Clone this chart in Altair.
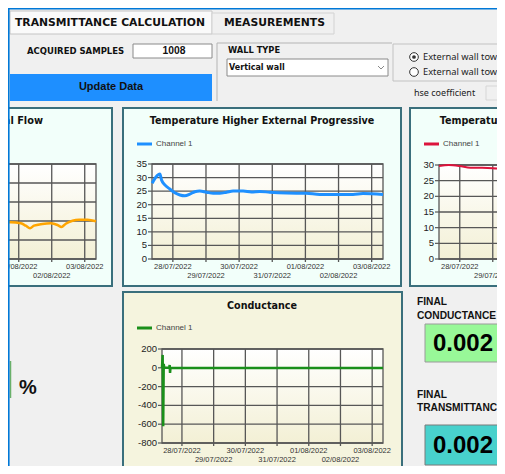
import altair as alt
import pandas as pd

OFF = 8            # page margin: chart coords = screenshot px - 8
W, H = 489, 458

# ---------------- data ----------------
BASE = pd.Timestamp("2022-07-28 00:00:00")   # series hours are counted from here
day_dates = ["2022-07-28T00:00:00", "2022-07-29T00:00:00", "2022-07-30T00:00:00",
             "2022-07-31T00:00:00", "2022-08-01T00:00:00", "2022-08-02T00:00:00",
             "2022-08-03T00:00:00"]
day_labels = ["28/07/2022", "29/07/2022", "30/07/2022", "31/07/2022",
              "01/08/2022", "02/08/2022", "03/08/2022"]
day_row = [0, 1, 0, 1, 0, 1, 0]

# Temperature Higher External Progressive (Channel 1)
ext_hours = [-15.0, -11.4, -9.4, -8.2, -5.8, -2.2, 1.4, 5.1, 8.7, 12.3, 15.9, 19.5, 24.4,
             29.2, 34.0, 38.9, 43.6, 50.9, 56.9, 62.9, 70.2, 82.3, 96.7, 106.4, 120.8,
             130.5, 137.7, 152.2]
ext_vals = [27.9, 30.7, 31.3, 29.1, 27.3, 25.8, 24.4, 23.6, 23.3, 23.9, 24.8, 25.05, 24.6,
            24.2, 24.2, 24.6, 25.05, 25.05, 24.7, 24.9, 24.6, 24.3, 24.2, 23.8, 23.8,
            23.8, 24.1, 23.8]

# Temperature (right panel, Channel 1)
int_hours = [-15.1, -8.0, -0.2, 7.8, 16.2, 24.2, 32.0, 50.0, 80.0, 110.0, 152.2]
int_vals = [29.7, 30.0, 29.7, 29.1, 29.1, 29.0, 28.7, 28.5, 28.3, 28.2, 28.0]

# Thermal flow (left panel, Channel 1)
flow_hours = [-15.1, 20.0, 50.0, 75.0, 90.2, 97.5, 101.1, 104.2, 107.1, 113.2, 119.3,
              124.2, 127.1, 130.2, 135.1, 139.9, 146.0, 152.2]
flow_vals = [9.0, 9.5, 9.8, 9.6, 9.66, 9.39, 8.76, 8.08, 8.76, 9.21, 9.39, 8.95, 8.42,
             9.29, 10.08, 10.34, 10.34, 9.92]

# Conductance (Channel 1)
cond_hours = [-15.1, -14.6, -14.2, -13.8, -13.4, -9.6, -9.3, -9.0, -8.7, 0.0, 30.0,
              60.0, 90.0, 120.0, 152.2]
cond_vals = [0, 137, -621, 40, 0, 0, 30, -55, 0, -3, -2, -2, -3, -2, -2]

ext_ticks = [0, 5, 10, 15, 20, 25, 30, 35]
int_ticks = [0, 5, 10, 15, 20, 25, 30]
flow_ticks = [0, 5, 10, 15, 20, 25]
cond_ticks = [-800, -600, -400, -200, 0, 200]

acquired_samples = "1008"
final_conductance = "0.002"
final_transmittance = "0.002"

# ---------------- style ----------------
BG = "#F0F0F0"
PANEL_BG = "#F2FFFA"
COND_BG = "#F5F4DE"
PANEL_STROKE = "#3A6F7C"
GRID = "#575757"
TXT = "#222222"
AXF = "Liberation Sans"
UIF = "DejaVu Sans"
NOTO = "Noto Sans"
PLOT_GRAD = {"gradient": "linear", "x1": 0, "y1": 0, "x2": 0, "y2": 1,
             "stops": [{"offset": 0, "color": "#FFFFFF"}, {"offset": 1, "color": "#F3F0D5"}]}

T0 = alt.DateTime(year=2022, month=7, date=27, hours=8, minutes=54)
T1 = alt.DateTime(year=2022, month=8, date=3, hours=8, minutes=12)

ONE = pd.DataFrame({"k": [0]})


def px(v):
    return v - OFF


def rect(x1, y1, x2, y2, fill, stroke="transparent", sw=1):
    return alt.Chart(ONE).mark_rect(fill=fill, stroke=stroke, strokeWidth=sw, clip=True).encode(
        x=alt.value(px(x1)), x2=alt.value(px(x2)), y=alt.value(px(y1)), y2=alt.value(px(y2)))


def seg(x1, y1, x2, y2, color, sw=1):
    return alt.Chart(ONE).mark_rule(color=color, strokeWidth=sw, clip=True).encode(
        x=alt.value(px(x1)), x2=alt.value(px(x2)), y=alt.value(px(y1)), y2=alt.value(px(y2)))


def label(text, x, y, size=9, bold=False, font=AXF, align="left", color=TXT):
    return alt.Chart(pd.DataFrame({"t": [text]})).mark_text(
        align=align, baseline="middle", fontSize=size, font=font,
        fontWeight="bold" if bold else "normal", color=color, clip=True
    ).encode(text="t:N", x=alt.value(px(x)), y=alt.value(px(y)))


def series_chart(x0, x1, yb, yt, ydom, ticks, hours, vals, color, sw, interp):
    xs = alt.Scale(domain=[T0, T1], range=[px(x0), px(x1)], nice=False)
    ys = alt.Scale(domain=ydom, range=[px(yb), px(yt)], nice=False, zero=False)
    tick_df = pd.DataFrame({"v": ticks, "lab": [str(t) for t in ticks]})
    day_df = pd.DataFrame({"d": day_dates, "lab": day_labels, "row": day_row})
    row0 = day_df[day_df.row == 0].reset_index(drop=True)
    row1 = day_df[day_df.row == 1].reset_index(drop=True)
    ser = pd.DataFrame({"time": BASE + pd.to_timedelta(hours, unit="h"), "val": vals})

    def Y(f):
        return alt.Y(f, scale=ys, axis=None)

    def X(f):
        return alt.X(f, scale=xs, axis=None)

    date_txt = dict(align="center", baseline="middle", font=AXF, fontSize=7.5, color="#333", clip=True)
    return [
        rect(x0, yt, x1, yb, fill=PLOT_GRAD),
        alt.Chart(tick_df).mark_rule(color=GRID, strokeWidth=1.3, clip=True).encode(
            y=Y("v:Q"), x=alt.value(px(x0)), x2=alt.value(px(x1))),
        alt.Chart(tick_df).mark_rule(color=GRID, strokeWidth=1.2, clip=True).encode(
            y=Y("v:Q"), x=alt.value(px(x0 - 4)), x2=alt.value(px(x0))),
        alt.Chart(tick_df).mark_text(align="right", baseline="middle", font=AXF, fontSize=9.5,
                                     color=TXT, clip=True).encode(
            y=Y("v:Q"), x=alt.value(px(x0 - 5)), text="lab:N"),
        alt.Chart(day_df).mark_rule(color=GRID, strokeWidth=1.3, clip=True).encode(
            x=X("d:T"), y=alt.value(px(yt)), y2=alt.value(px(yb + 3))),
        alt.Chart(row0).mark_text(**date_txt).encode(
            x=X("d:T"), y=alt.value(px(yb + 7.5)), text="lab:N"),
        alt.Chart(row1).mark_text(**date_txt).encode(
            x=X("d:T"), y=alt.value(px(yb + 16.5)), text="lab:N"),
        rect(x0, yt, x1, yb, fill="transparent", stroke=GRID, sw=1.3),
        alt.Chart(ser).mark_line(color=color, strokeWidth=sw, interpolate=interp, clip=True).encode(
            x=X("time:T"), y=Y("val:Q")),
    ]


def legend(x, y, color):
    return [seg(x, y, x + 15, y, color, 3),
            label("Channel 1", x + 19, y, size=8, color="#444")]


layers = []

# ---- top form area ----
layers += [
    rect(10, 11, 212, 34, "#FAFAFA", "#C4C4C4"),
    rect(212, 13, 334, 34, BG, "#D2D2D2"),
    label("TRANSMITTANCE CALCULATION", 15, 23, size=10.8, bold=True, font=UIF, color="#111"),
    label("MEASUREMENTS", 224, 23, size=10.8, bold=True, font=UIF, color="#111"),
    label("ACQUIRED SAMPLES", 27, 51, size=8.5, bold=True, font=UIF, color="#111"),
    rect(133, 44, 212, 58, "#FFFFFF", "#8A8A8A"),
    label(acquired_samples, 174, 51, size=10.3, bold=True, align="center", color="#111"),
    rect(10, 74, 212, 101, "#1E8FFF"),
    label("Update Data", 111, 87, size=11, bold=True, align="center", color="#111"),
    seg(217, 43, 217, 101, "#B4B4B4"),
    seg(217, 43, 392, 43, "#B4B4B4"),
    label("WALL TYPE", 228, 51, size=8.3, bold=True, font=UIF, color="#111"),
    rect(227, 59, 388, 76, "#FFFFFF", "#8A8A8A"),
    label("Vertical wall", 229, 67.5, size=8, bold=True, font=UIF, color="#111"),
    seg(378, 66, 381, 69, "#888", 1),
    seg(381, 69, 384, 66, "#888", 1),
    rect(393, 44, 520, 81, "transparent", "#C2C2C2"),
    alt.Chart(ONE).mark_point(shape="circle", size=75, fill="#FFFFFF", fillOpacity=1,
                              stroke="#333", strokeWidth=1, opacity=1, clip=True).encode(
        x=alt.value(px(414)), y=alt.value(px(57))),
    alt.Chart(ONE).mark_point(shape="circle", size=75, fill="#FFFFFF", fillOpacity=1,
                              stroke="#333", strokeWidth=1, opacity=1, clip=True).encode(
        x=alt.value(px(414)), y=alt.value(px(72))),
    alt.Chart(ONE).mark_point(shape="circle", size=14, filled=True, color="#333",
                              opacity=1, clip=True).encode(
        x=alt.value(px(414)), y=alt.value(px(57))),
    label("External wall towards outside", 423, 57, size=9.3, font=NOTO, color="#222"),
    label("External wall towards unheated room", 423, 72, size=9.3, font=NOTO, color="#222"),
    label("hse coefficient", 414, 93, size=9, font=NOTO, color="#222"),
    rect(486, 86, 520, 100, BG, "#D6D6D6"),
    label("2", 499, 93, size=9, font=NOTO, color="#444"),
]

# ---- panels ----
layers += [
    rect(-170, 108, 112, 286, PANEL_BG, PANEL_STROKE, 2),
    rect(123, 108, 401, 286, PANEL_BG, PANEL_STROKE, 2),
    rect(410, 108, 690, 286, PANEL_BG, PANEL_STROKE, 2),
    rect(123, 292, 402, 470, COND_BG, PANEL_STROKE, 2),
]

# left: thermal flow (mostly out of view)
layers += series_chart(-134, 96, 259, 164, [0, 25], flow_ticks, flow_hours, flow_vals,
                       "#FFA500", 2.5, "monotone")
layers += [label("Progressive Thermal Flow", 43, 121, size=9.8, bold=True, font=UIF,
                 align="right", color="#111")]

# middle: temperature higher external progressive
layers += series_chart(152, 383, 259, 164, [0, 35], ext_ticks, ext_hours, ext_vals,
                       "#1E90FF", 3, "monotone")
layers += [label("Temperature Higher External Progressive", 262, 121, size=9.6, bold=True,
                 font=UIF, align="center", color="#111")]
layers += legend(137, 144, "#1E90FF")

# right: temperature (partly out of view)
layers += series_chart(439, 669, 259, 165, [0, 30], int_ticks, int_hours, int_vals,
                       "#DC143C", 2, "monotone")
layers += [label("Temperature Lower Internal Progressive", 549, 121, size=9.6, bold=True,
                 font=UIF, align="center", color="#111")]
layers += legend(424, 144, "#DC143C")

# conductance
layers += series_chart(162, 383, 443, 349, [-800, 200], cond_ticks, cond_hours, cond_vals,
                       "#1A8F1A", 2.5, "linear")
layers += [label("Conductance", 262, 306, size=9.6, bold=True, font=UIF, align="center", color="#111")]
layers += legend(137, 328, "#1A8F1A")

# ---- bottom right results ----
layers += [
    label("FINAL", 417, 302, size=10.2, bold=True, color="#111"),
    label("CONDUCTANCE", 417, 316, size=10.2, bold=True, color="#111"),
    rect(425, 324, 501, 362, "#98F898", "#9A9A9A"),
    label(final_conductance, 463, 343.5, size=24, bold=True, align="center", color="#000"),
    label("FINAL", 417, 395, size=10.2, bold=True, color="#111"),
    label("TRANSMITTANCE", 417, 408, size=10.2, bold=True, color="#111"),
    rect(425, 425, 501, 465, "#48D1CC", "#7A7A7A"),
    label(final_transmittance, 463, 445.5, size=24, bold=True, align="center", color="#000"),
]

# ---- bottom left ----
layers += [
    seg(10.5, 361, 10.5, 398, "#6AB06A", 1.5),
    label("%", 28, 388, size=20, bold=True, align="center", color="#111"),
]

# ---- outer blue frame ----
layers += [
    rect(8, 8, 506, 9.6, "#0078D7"),
    rect(8, 8, 9.6, 475, "#0078D7"),
]

chart = alt.layer(*layers).resolve_scale(x="independent", y="independent").properties(
    width=W, height=H, background=BG, padding=0,
    autosize=alt.AutoSizeParams(type="none"),
).configure_view(stroke=None)

chart.save("out.html", embed_options={"renderer": "svg", "actions": False})
